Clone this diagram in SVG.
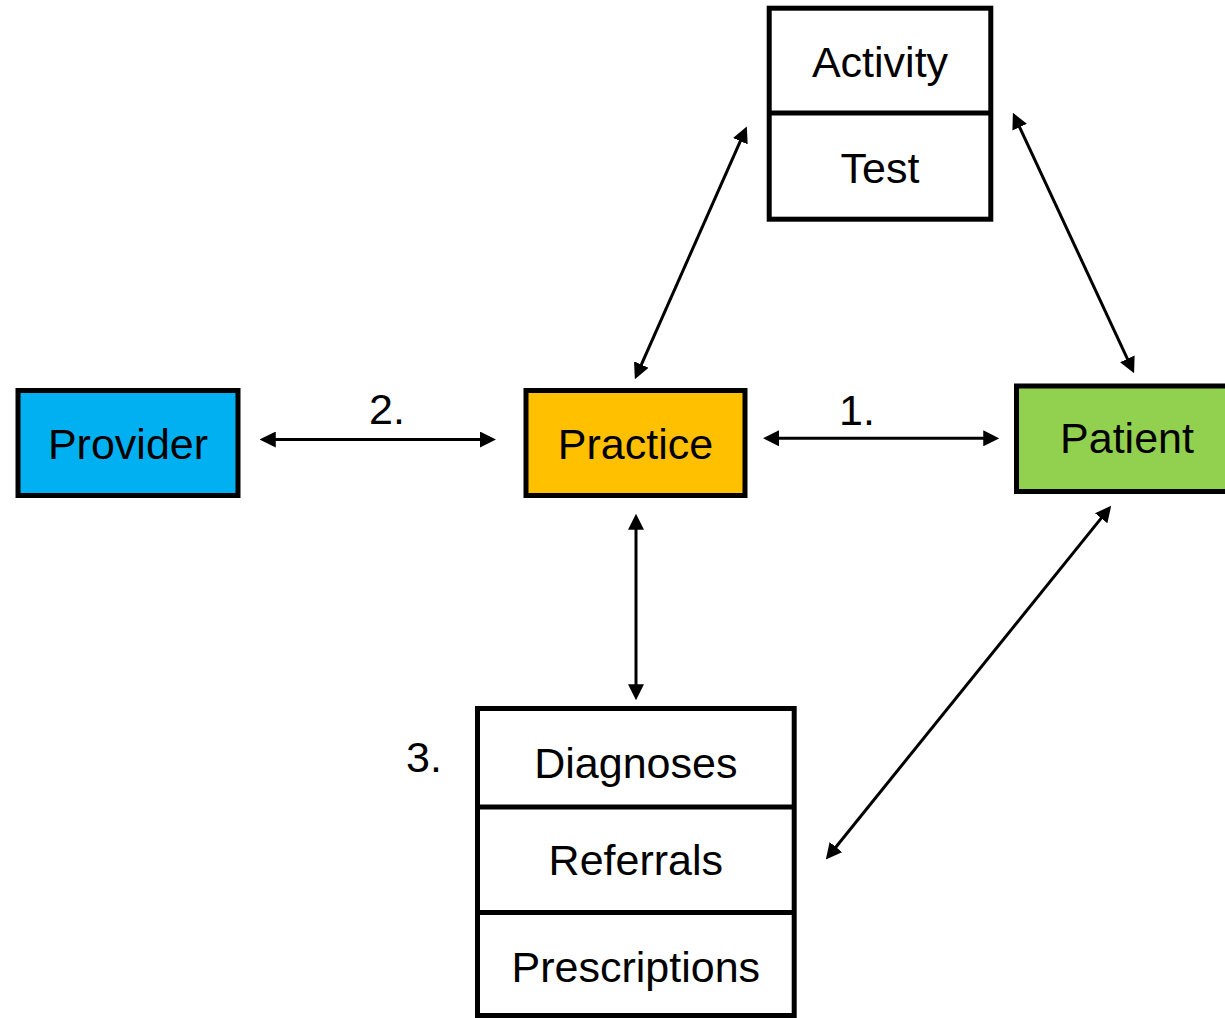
<svg xmlns="http://www.w3.org/2000/svg" width="1225" height="1018" viewBox="0 0 1225 1018">
<style>
.box{stroke:#000;stroke-width:5;}
.div{stroke:#000;stroke-width:5;}
.lbl{font-family:"Liberation Sans",Arial,sans-serif;font-size:43px;fill:#000;text-anchor:middle;}
.con{stroke:#000;stroke-width:3;fill:none;marker-start:url(#ah);marker-end:url(#ah);}
</style>
<defs>
<marker id="ah" markerUnits="userSpaceOnUse" markerWidth="16" markerHeight="16" refX="11" refY="7.5" orient="auto-start-reverse" viewBox="0 0 15 15">
<path d="M0,0 L15,7.5 L0,15 Z" fill="#000"/>
</marker>
</defs>
<rect width="1225" height="1018" fill="#fff"/>
<g id="provider">
<rect class="box" x="18" y="390.5" width="220" height="105" fill="#00B0F0"/>
<text class="lbl" x="128" y="459">Provider</text>
</g>
<g id="practice">
<rect class="box" x="526" y="390.5" width="219" height="105" fill="#FFC000"/>
<text class="lbl" x="635.5" y="459">Practice</text>
</g>
<g id="patient">
<rect class="box" x="1016.5" y="386" width="222" height="105.5" fill="#92D050"/>
<text class="lbl" x="1127" y="453">Patient</text>
</g>
<g id="activity-test">
<rect class="box" x="769.2" y="8.2" width="221.6" height="211" fill="#fff"/>
<line class="div" x1="769.2" y1="113" x2="990.8" y2="113"/>
<text class="lbl" x="880" y="77">Activity</text>
<text class="lbl" x="880" y="182.5">Test</text>
</g>
<g id="records">
<rect class="box" x="477.5" y="708.5" width="316.7" height="307" fill="#fff"/>
<line class="div" x1="477.5" y1="807" x2="794.2" y2="807"/>
<line class="div" x1="477.5" y1="912.5" x2="794.2" y2="912.5"/>
<text class="lbl" x="635.8" y="778">Diagnoses</text>
<text class="lbl" x="635.8" y="875">Referrals</text>
<text class="lbl" x="635.8" y="981.5">Prescriptions</text>
</g>
<g id="connectors">
<line class="con" x1="264" y1="439.5" x2="491.7" y2="439.5"/>
<line class="con" x1="767.3" y1="438.3" x2="995" y2="438.3"/>
<line class="con" x1="636.6" y1="375.3" x2="745.1" y2="130.4"/>
<line class="con" x1="1014.7" y1="116.6" x2="1132.3" y2="369.4"/>
<line class="con" x1="636" y1="518" x2="636" y2="696"/>
<line class="con" x1="1108.5" y1="509.1" x2="828.5" y2="856.2"/>
<text class="lbl" x="387" y="424">2.</text>
<text class="lbl" x="857" y="425">1.</text>
<text class="lbl" x="424" y="772">3.</text>
</g>
</svg>
